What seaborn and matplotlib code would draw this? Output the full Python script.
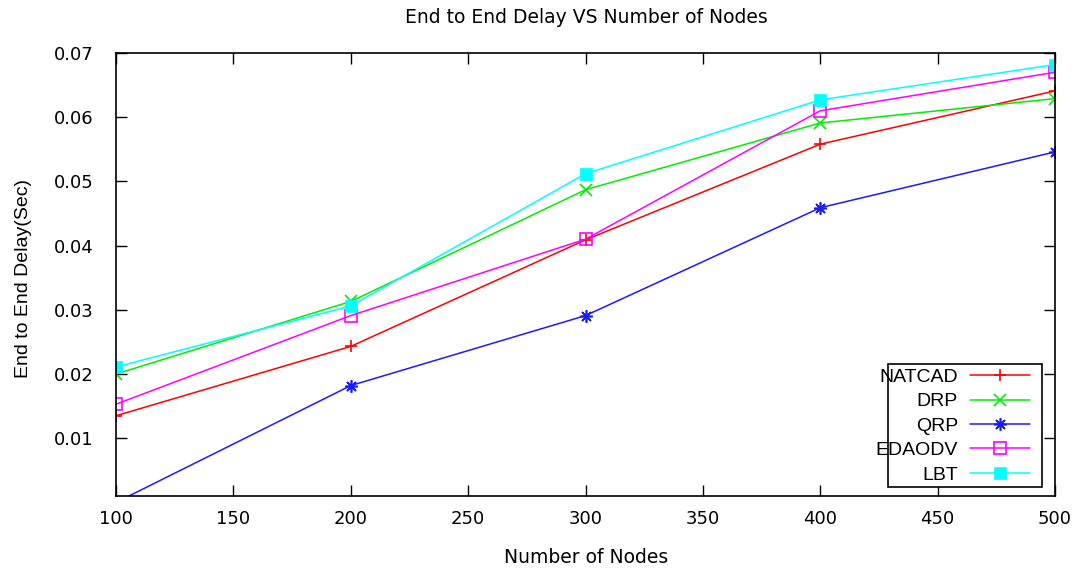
import matplotlib
matplotlib.use("Agg")
import matplotlib.pyplot as plt
from matplotlib.patches import Rectangle
import seaborn as sns
import pandas as pd

nodes = [100, 200, 300, 400, 500]
natcad = [0.0135, 0.0243, 0.0409, 0.0558, 0.0641]
drp = [0.0200, 0.0313, 0.0487, 0.0591, 0.0629]
qrp = [0.0000, 0.0182, 0.0291, 0.0459, 0.0546]
edaodv = [0.0153, 0.0291, 0.0410, 0.0610, 0.0670]
lbt = [0.0211, 0.0306, 0.0512, 0.0627, 0.0682]

series = ["NATCAD", "DRP", "QRP", "EDAODV", "LBT"]
values = [natcad, drp, qrp, edaodv, lbt]

sns.set_style("ticks")
plt.rcParams['font.family'] = ['DejaVu Sans']
plt.rcParams['text.color'] = 'black'
plt.rcParams['axes.labelcolor'] = 'black'

colors = {"NATCAD": "#ff0000", "DRP": "#00ee00", "QRP": "#1a1aff",
          "EDAODV": "#ff00ff", "LBT": "#00ffff"}
markers = {"NATCAD": "+", "DRP": "x", "QRP": (8, 2, 0),
           "EDAODV": "s", "LBT": "s"}

fig = plt.figure(figsize=(10.78, 5.70), dpi=100)
ax = fig.add_axes([0.1076, 0.1298, 0.8711, 0.7772])

for name, vals in zip(series, values):
    d = pd.DataFrame({"Nodes": nodes, "Delay": vals})
    kw = dict(marker=markers[name], color=colors[name], linewidth=1.1,
              markersize=9, markeredgewidth=1.2, markeredgecolor=colors[name])
    if name == "EDAODV":
        kw.update(markerfacecolor="none", markersize=8)
    if name == "LBT":
        kw.update(markerfacecolor=colors[name], markersize=8.5, markeredgewidth=0.5)
    sns.lineplot(data=d, x="Nodes", y="Delay", ax=ax, label=name, **kw)

ax.set_xlim(100, 500)
ax.set_ylim(0.001, 0.07)
ax.set_xticks([100, 150, 200, 250, 300, 350, 400, 450, 500])
ax.set_yticks([0.01, 0.02, 0.03, 0.04, 0.05, 0.06, 0.07])
ax.set_yticklabels(["0.01", "0.02", "0.03", "0.04", "0.05", "0.06", "0.07"])
ax.tick_params(direction="in", top=True, right=True, length=8, width=1,
               labelsize=13, colors="black")
ax.tick_params(axis="y", pad=16)
ax.tick_params(axis="x", pad=10)
for sp in ax.spines.values():
    sp.set_visible(True)
    sp.set_linewidth(1.2)
    sp.set_color("black")

ax.set_xlabel("Number of Nodes", fontsize=13.5)
ax.xaxis.label.set_va("center")
ax.xaxis.set_label_coords(0.501, -0.1377)
ax.set_ylabel("End to End Delay(Sec)", fontsize=14, family=["Liberation Sans"])
ax.yaxis.label.set_va("center")
ax.yaxis.set_label_coords(-0.099, 0.49)
fig.text(0.544, 0.970, "End to End Delay VS Number of Nodes", ha="center",
         va="center", fontsize=13.5)

# legend box (gnuplot style, text overflows box on the left)
ax.add_patch(Rectangle((0.8222, 0.0203), 0.164, 0.2777, transform=ax.transAxes,
                       facecolor="white", edgecolor="black", linewidth=1.2,
                       zorder=4))
leg = ax.legend(handles=ax.get_lines(), labels=series, loc="center right",
                bbox_to_anchor=(0.9734, 0.158), markerfirst=False,
                prop={"family": "Liberation Sans", "size": 14},
                handlelength=3.1, labelspacing=0.35, frameon=False,
                borderpad=0.0, handletextpad=0.6, borderaxespad=0.0)
leg.set_zorder(5)

fig.savefig("out.png", dpi=100)
